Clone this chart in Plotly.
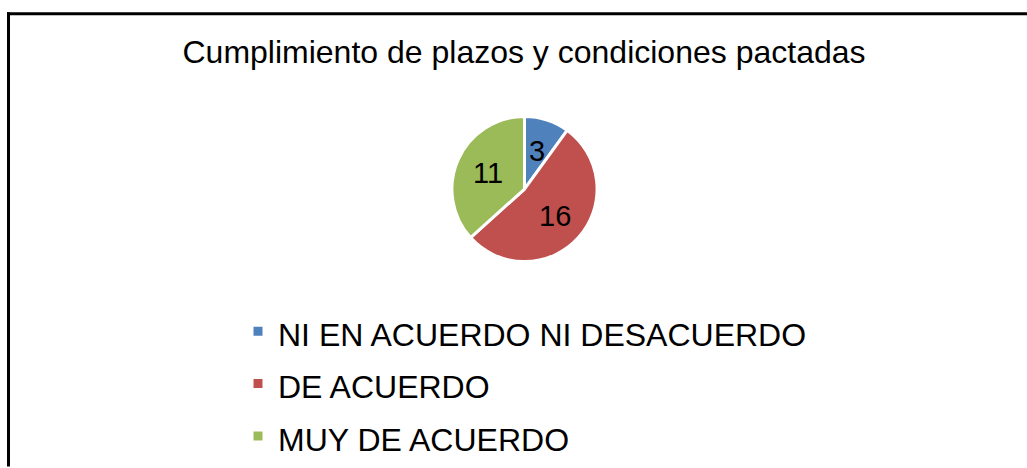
import math
import plotly.graph_objects as go

categories = ["NI EN ACUERDO NI DESACUERDO", "DE ACUERDO", "MUY DE ACUERDO"]
values = [3, 16, 11]
colors = ["#4F81BD", "#C0504D", "#9BBB59"]
title_text = "Cumplimiento de plazos y condiciones pactadas"

W, H = 1027, 468
FONT = "Liberation Sans, Arial, sans-serif"

# pie domain (pixels)
px0, px1, py0, py1 = 451, 598, 118, 265
cx, cy = (px0 + px1) / 2, (py0 + py1) / 2
R = (px1 - px0) / 2
LABEL_R = 0.55 * R

labels = ['<span style="font-size:32px">%s</span>' % c for c in categories]

fig = go.Figure(go.Pie(
    labels=labels,
    values=values,
    sort=False,
    direction="clockwise",
    rotation=0,
    marker=dict(colors=colors, line=dict(color="white", width=3)),
    textinfo="none",
    domain=dict(x=[px0 / W, px1 / W], y=[1 - py1 / H, 1 - py0 / H]),
    hoverinfo="label+value",
))

# data labels placed at each slice's mid-angle
total = sum(values)
annotations = []
cum = 0
for v in values:
    mid = (cum + v / 2) / total * 2 * math.pi
    cum += v
    x = cx + LABEL_R * math.sin(mid)
    y = cy - LABEL_R * math.cos(mid)
    annotations.append(dict(x=x / W, y=1 - y / H, xref="paper", yref="paper",
                            text=str(v), showarrow=False,
                            xanchor="center", yanchor="middle",
                            font=dict(family=FONT, size=29, color="black")))

fig.update_layout(
    width=W, height=H,
    margin=dict(l=0, r=0, t=0, b=0),
    paper_bgcolor="white",
    plot_bgcolor="white",
    font=dict(family=FONT, color="black"),
    title=dict(text=title_text, x=524 / W, xanchor="center",
               y=1 - 52 / H, yanchor="middle", yref="container",
               font=dict(family=FONT, size=32, color="black")),
    legend=dict(x=238 / W, xanchor="left", y=1 - 304 / H, yanchor="top",
                font=dict(family=FONT, size=38, color="black"),
                bgcolor="rgba(0,0,0,0)", orientation="v"),
    showlegend=True,
    annotations=annotations,
    shapes=[
        dict(type="line", xref="paper", yref="paper",
             x0=7 / W, x1=1.01, y0=1 - 14 / H, y1=1 - 14 / H,
             line=dict(color="black", width=3)),
        dict(type="line", xref="paper", yref="paper",
             x0=8.5 / W, x1=8.5 / W, y0=1 - 12.5 / H, y1=-0.01,
             line=dict(color="black", width=3)),
    ],
)

fig.write_html("out.html", config={"displayModeBar": False},
               post_script="document.body.style.margin='0';document.body.style.overflow='hidden';")
